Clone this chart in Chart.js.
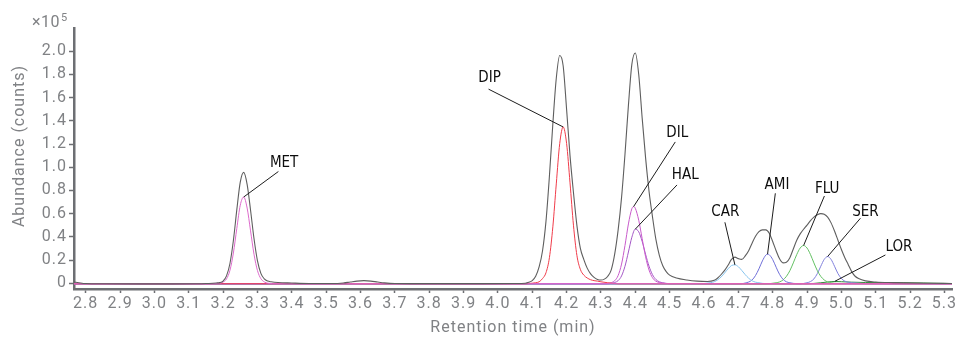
<!DOCTYPE html>
<html>
<head>
<meta charset="utf-8">
<script src="https://cdn.jsdelivr.net/npm/chart.js@4.4.1/dist/chart.umd.min.js"></script>
<style>
  html, body { margin: 0; padding: 0; background: #ffffff; }
  #wrap { width: 958px; height: 337px; }
</style>
</head>
<body>
<div id="wrap"><canvas id="chrom" width="958" height="337"></canvas></div>
<script>
// Axis ticks (retention time in min, abundance in 10^5 counts)
const xTicks = [2.8, 2.9, 3.0, 3.1, 3.2, 3.3, 3.4, 3.5, 3.6, 3.7, 3.8, 3.9, 4.0, 4.1, 4.2, 4.3, 4.4, 4.5, 4.6, 4.7, 4.8, 4.9, 5.0, 5.1, 5.2, 5.3];
const yTicks = [0, 0.2, 0.4, 0.6, 0.8, 1.0, 1.2, 1.4, 1.6, 1.8, 2.0];

// Total ion chromatogram
const ticTime = [2.766, 2.78, 2.80, 2.85, 2.95, 3.05, 3.12, 3.15, 3.17, 3.18, 3.19, 3.20, 3.21, 3.22, 3.23, 3.24, 3.25, 3.26, 3.27, 3.28, 3.29, 3.30, 3.31, 3.32, 3.33, 3.34, 3.36, 3.40, 3.45, 3.52, 3.55, 3.57, 3.59, 3.61, 3.63, 3.65, 3.67, 3.70, 3.80, 3.95, 4.05, 4.08, 4.09, 4.10, 4.11, 4.12, 4.13, 4.14, 4.15, 4.16, 4.17, 4.18, 4.19, 4.20, 4.21, 4.22, 4.23, 4.24, 4.25, 4.26, 4.27, 4.28, 4.29, 4.30, 4.31, 4.32, 4.33, 4.34, 4.35, 4.36, 4.37, 4.38, 4.39, 4.40, 4.41, 4.42, 4.43, 4.44, 4.45, 4.46, 4.47, 4.48, 4.49, 4.50, 4.52, 4.55, 4.58, 4.61, 4.63, 4.64, 4.65, 4.66, 4.67, 4.68, 4.69, 4.70, 4.71, 4.72, 4.73, 4.74, 4.75, 4.76, 4.77, 4.78, 4.79, 4.80, 4.81, 4.82, 4.83, 4.84, 4.85, 4.86, 4.87, 4.88, 4.89, 4.90, 4.91, 4.92, 4.93, 4.94, 4.95, 4.96, 4.97, 4.98, 4.99, 5.00, 5.01, 5.02, 5.03, 5.04, 5.05, 5.07, 5.10, 5.15, 5.25, 5.322];
const ticAbund = [0.010, 0.004, -0.003, -0.005, -0.006, -0.006, -0.005, -0.003, 0.0, 0.002, 0.005, 0.018, 0.063, 0.17, 0.368, 0.634, 0.871, 0.955, 0.852, 0.629, 0.385, 0.195, 0.085, 0.037, 0.018, 0.012, 0.006, 0.002, -0.002, -0.003, 0.002, 0.01, 0.018, 0.022, 0.018, 0.01, 0.003, -0.002, -0.004, -0.004, -0.003, 0.0, 0.008, 0.022, 0.06, 0.14, 0.28, 0.533, 0.922, 1.374, 1.767, 1.963, 1.875, 1.50, 1.10, 0.782, 0.499, 0.303, 0.206, 0.13, 0.08, 0.05, 0.032, 0.027, 0.035, 0.06, 0.115, 0.25, 0.457, 0.738, 1.112, 1.533, 1.887, 1.984, 1.799, 1.425, 1.08, 0.793, 0.574, 0.377, 0.24, 0.15, 0.10, 0.07, 0.045, 0.028, 0.018, 0.015, 0.025, 0.045, 0.075, 0.11, 0.155, 0.205, 0.225, 0.212, 0.205, 0.235, 0.28, 0.345, 0.405, 0.445, 0.46, 0.46, 0.43, 0.36, 0.28, 0.21, 0.175, 0.18, 0.22, 0.295, 0.37, 0.425, 0.465, 0.50, 0.54, 0.57, 0.59, 0.60, 0.595, 0.57, 0.52, 0.45, 0.37, 0.29, 0.22, 0.16, 0.10, 0.06, 0.04, 0.02, 0.01, 0.005, 0.0, -0.002];

// Extracted ion chromatograms, one per compound
const metTime = [2.766, 3.15, 3.19, 3.20, 3.21, 3.22, 3.23, 3.24, 3.25, 3.26, 3.27, 3.28, 3.29, 3.30, 3.31, 3.32, 3.33, 3.36, 5.322];
const metAbund = [-0.005, -0.005, 0.0, 0.01, 0.037, 0.111, 0.26, 0.473, 0.672, 0.743, 0.648, 0.451, 0.25, 0.11, 0.039, 0.011, 0.0, -0.005, -0.005];

const dipTime = [2.766, 4.08, 4.10, 4.11, 4.12, 4.13, 4.14, 4.15, 4.16, 4.17, 4.18, 4.19, 4.20, 4.21, 4.22, 4.23, 4.24, 4.25, 4.26, 4.27, 4.28, 4.29, 4.30, 4.32, 4.35, 5.322];
const dipAbund = [-0.005, -0.005, 0.0, 0.004, 0.012, 0.04, 0.09, 0.22, 0.486, 0.856, 1.203, 1.347, 1.205, 0.865, 0.50, 0.24, 0.12, 0.07, 0.045, 0.03, 0.022, 0.018, 0.012, 0.004, -0.005, -0.005];

const dilTime = [2.766, 4.31, 4.33, 4.34, 4.35, 4.36, 4.37, 4.38, 4.39, 4.395, 4.40, 4.41, 4.42, 4.43, 4.44, 4.45, 4.46, 4.47, 4.49, 5.322];
const dilAbund = [-0.005, -0.005, 0.005, 0.021, 0.066, 0.165, 0.325, 0.511, 0.642, 0.66, 0.646, 0.543, 0.384, 0.228, 0.114, 0.048, 0.017, 0.006, -0.003, -0.005];

const halTime = [2.766, 4.32, 4.34, 4.35, 4.36, 4.37, 4.38, 4.39, 4.40, 4.41, 4.42, 4.43, 4.44, 4.45, 4.46, 4.47, 4.48, 4.50, 5.322];
const halAbund = [-0.005, -0.005, 0.006, 0.022, 0.063, 0.146, 0.269, 0.396, 0.466, 0.443, 0.36, 0.249, 0.147, 0.074, 0.032, 0.012, 0.004, -0.004, -0.005];

const carTime = [2.766, 4.58, 4.62, 4.63, 4.64, 4.65, 4.66, 4.67, 4.68, 4.69, 4.70, 4.71, 4.72, 4.73, 4.74, 4.75, 4.76, 4.78, 5.322];
const carAbund = [-0.005, -0.005, 0.005, 0.013, 0.029, 0.054, 0.088, 0.124, 0.152, 0.158, 0.142, 0.11, 0.074, 0.043, 0.021, 0.009, 0.004, -0.004, -0.005];

const amiTime = [2.766, 4.70, 4.73, 4.74, 4.75, 4.76, 4.77, 4.78, 4.785, 4.79, 4.80, 4.81, 4.82, 4.83, 4.84, 4.85, 4.87, 5.322];
const amiAbund = [-0.005, -0.005, 0.01, 0.028, 0.066, 0.124, 0.192, 0.242, 0.25, 0.245, 0.204, 0.138, 0.076, 0.034, 0.012, 0.004, -0.004, -0.005];

const fluTime = [2.766, 4.78, 4.81, 4.82, 4.83, 4.84, 4.85, 4.86, 4.87, 4.88, 4.89, 4.90, 4.91, 4.92, 4.93, 4.94, 4.95, 4.96, 4.97, 4.99, 5.322];
const fluAbund = [-0.005, -0.005, 0.004, 0.011, 0.028, 0.059, 0.108, 0.175, 0.247, 0.303, 0.325, 0.303, 0.247, 0.175, 0.108, 0.059, 0.028, 0.011, 0.004, -0.002, -0.003];

const serTime = [2.766, 4.88, 4.90, 4.91, 4.92, 4.93, 4.94, 4.95, 4.96, 4.97, 4.98, 4.99, 5.00, 5.01, 5.02, 5.04, 5.07, 5.322];
const serAbund = [-0.005, -0.005, 0.004, 0.014, 0.037, 0.083, 0.146, 0.205, 0.23, 0.205, 0.146, 0.083, 0.04, 0.018, 0.008, 0.002, -0.004, -0.005];

const lorTime = [2.766, 4.90, 4.94, 4.96, 4.98, 5.00, 5.03, 5.07, 5.12, 5.18, 5.24, 5.30, 5.322];
const lorAbund = [-0.005, -0.005, 0.004, 0.010, 0.015, 0.013, 0.009, 0.006, 0.005, 0.004, 0.002, -0.002, -0.003];

const compounds = [
  { name: 'MET', time: metTime, abund: metAbund },
  { name: 'DIP', time: dipTime, abund: dipAbund },
  { name: 'DIL', time: dilTime, abund: dilAbund },
  { name: 'HAL', time: halTime, abund: halAbund },
  { name: 'CAR', time: carTime, abund: carAbund },
  { name: 'AMI', time: amiTime, abund: amiAbund },
  { name: 'FLU', time: fluTime, abund: fluAbund },
  { name: 'SER', time: serTime, abund: serAbund },
  { name: 'LOR', time: lorTime, abund: lorAbund }
];

// Trace styling
const traceColor = {
  TIC: '#5e5e5e', MET: '#dd6acc', DIP: '#f03c4a', DIL: '#c85acb', HAL: '#a457c6',
  CAR: '#86c4ee', AMI: '#6f6fd8', FLU: '#62c062', SER: '#7f7fdc', LOR: '#2f8a3c'
};

// Callout placement relative to each peak apex, in pixels: leader end and text centre
const calloutOffset = {
  MET: { lead: [34.7, -25.5], text: [40.4, -34.2] },
  DIP: { lead: [-74.6, -37.8], text: [-73.6, -48.8] },
  DIL: { lead: [41.7, -64.7], text: [43.7, -73.7] },
  HAL: { lead: [41.7, -44.2], text: [50.0, -54.0] },
  CAR: { lead: [-10.0, -42.6], text: [-9.6, -53.2] },
  AMI: { lead: [7.8, -60.9], text: [9.5, -68.9] },
  FLU: { lead: [20.8, -49.5], text: [23.5, -56.0] },
  SER: { lead: [32.8, -38.3], text: [37.8, -44.6] },
  LOR: { lead: [50.9, -26.5], text: [64.4, -34.0] }
};

const toPoints = (t, a) => t.map((v, i) => ({ x: v, y: a[i] }));

const lineDefaults = {
  pointRadius: 0,
  fill: false,
  cubicInterpolationMode: 'monotone',
  tension: 0.4
};

const datasets = [
  Object.assign({ label: 'TIC', data: toPoints(ticTime, ticAbund), borderColor: traceColor.TIC, borderWidth: 1.1 }, lineDefaults)
].concat(compounds.map(c => Object.assign({
  label: c.name,
  data: toPoints(c.time, c.abund),
  borderColor: traceColor[c.name],
  borderWidth: 1
}, lineDefaults)));

const axisGray = '#6d6f73';
const textGray = '#808285';

const annotations = {
  id: 'annotations',
  beforeDraw(chart) {
    chart.ctx.letterSpacing = '1px';
  },
  afterDraw(chart) {
    const { ctx, chartArea } = chart;
    const xs = chart.scales.x, ys = chart.scales.y;
    ctx.save();

    // compound callouts
    ctx.letterSpacing = '0px';
    ctx.strokeStyle = '#1c1c1c';
    ctx.lineWidth = 1;
    ctx.fillStyle = '#0d0d0d';
    ctx.font = '15px "Liberation Sans Narrow", "DejaVu Sans Condensed", sans-serif';
    ctx.textAlign = 'center';
    ctx.textBaseline = 'middle';
    compounds.forEach(c => {
      let k = 0;
      c.abund.forEach((v, i) => { if (v > c.abund[k]) k = i; });
      const px = xs.getPixelForValue(c.time[k]);
      const py = ys.getPixelForValue(c.abund[k]);
      const off = calloutOffset[c.name];
      ctx.beginPath();
      ctx.moveTo(px, py);
      ctx.lineTo(px + off.lead[0], py + off.lead[1]);
      ctx.stroke();
      ctx.fillText(c.name, px + off.text[0], py + off.text[1]);
    });

    // axis titles
    ctx.letterSpacing = '1px';
    ctx.fillStyle = textGray;
    ctx.font = '16px Roboto';
    ctx.fillText('Retention time (min)', (chartArea.left + chartArea.right) / 2, 328);
    ctx.save();
    ctx.translate(20, 146);
    ctx.rotate(-Math.PI / 2);
    ctx.fillText('Abundance (counts)', 0, 0);
    ctx.restore();

    // scale multiplier
    ctx.textAlign = 'left';
    ctx.textBaseline = 'alphabetic';
    ctx.letterSpacing = '0.5px';
    ctx.font = '16px Roboto';
    ctx.fillText('\u00d710', 32, 27);
    const w = ctx.measureText('\u00d710').width;
    ctx.font = '11px Roboto';
    ctx.fillText('5', 32 + w + 1, 21);

    ctx.restore();
  }
};

new Chart(document.getElementById('chrom'), {
  type: 'line',
  data: { datasets },
  plugins: [annotations],
  options: {
    responsive: false,
    animation: false,
    devicePixelRatio: 1,
    layout: { padding: { top: 28, right: 6, left: 0, bottom: 0 } },
    plugins: { legend: { display: false }, tooltip: { enabled: false } },
    scales: {
      x: {
        type: 'linear',
        min: 2.766,
        max: 5.322,
        afterBuildTicks: s => { s.ticks = xTicks.map(v => ({ value: v })); },
        afterFit: s => { s.height = 48; },
        grid: { drawOnChartArea: false, drawTicks: true, tickLength: 4, tickColor: axisGray, tickWidth: 1.5 },
        border: { display: true, color: axisGray, width: 2.5 },
        ticks: {
          autoSkip: false, maxRotation: 0, minRotation: 0, padding: 1,
          color: textGray, font: { family: 'Roboto', size: 16 },
          callback: v => Number(v).toFixed(1)
        }
      },
      y: {
        type: 'linear',
        min: -0.05,
        max: 2.2,
        afterBuildTicks: s => { s.ticks = yTicks.map(v => ({ value: v })); },
        afterFit: s => { s.width = 74; },
        grid: { drawOnChartArea: false, drawTicks: true, tickLength: 5, tickColor: axisGray, tickWidth: 1.5 },
        border: { display: true, color: axisGray, width: 2.5 },
        ticks: {
          padding: 2,
          color: textGray, font: { family: 'Roboto', size: 16 },
          callback: v => (v === 0 ? '0' : Number(v).toFixed(1))
        }
      }
    }
  }
});
</script>
</body>
</html>
